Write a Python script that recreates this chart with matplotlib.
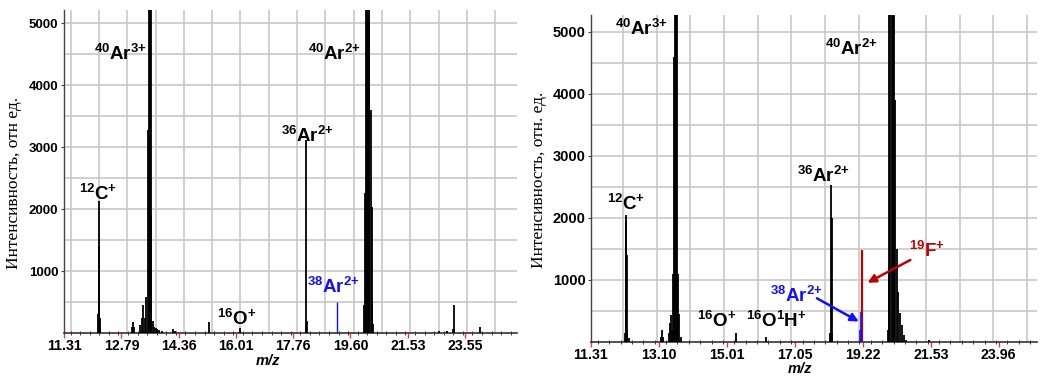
import numpy as np
import matplotlib
matplotlib.use("Agg")
import matplotlib.pyplot as plt

plt.rcParams['font.family'] = ['Liberation Sans', 'DejaVu Sans']
plt.rcParams['mathtext.default'] = 'regular'

# ---- data (m/z, intensity) ----
left_mz = [12.17, 12.19, 12.20, 12.22, 12.24,
           13.08, 13.11, 13.14, 13.30, 13.35, 13.38, 13.42,
           13.46, 13.50, 13.52, 13.55, 13.58, 13.60, 13.63, 13.67, 13.72, 13.76, 13.82, 13.90,
           14.21, 14.25, 15.21, 16.14,
           18.16, 18.18, 18.20,
           20.04, 20.08, 20.10, 20.14, 20.17, 20.20, 20.23, 20.27, 20.30, 20.33, 20.36,
           22.63, 22.90, 23.10, 23.14, 23.17, 24.11]
left_int = [300, 1400, 2130, 250, 80,
            100, 180, 90, 130, 250, 457, 250,
            585, 3270, 5300, 5300, 5300, 1900, 200, 90, 80, 60, 50, 30,
            60, 40, 170, 80,
            150, 3110, 200,
            450, 2260, 5300, 5300, 5300, 5300, 5300, 3600, 2040, 480, 150,
            30, 40, 60, 450, 60, 90]
left_blue_mz = [19.16]
left_blue_int = [505]

right_mz = [12.18, 12.20, 12.21, 12.23, 12.25, 12.28,
            13.14, 13.17, 13.20, 13.36, 13.40, 13.42, 13.45,
            13.49, 13.51, 13.53, 13.57, 13.59, 13.61, 13.64, 13.70,
            15.26, 16.18,
            18.16, 18.19, 18.21, 18.23,
            20.06, 20.09, 20.11, 20.14, 20.18, 20.22, 20.27, 20.31, 20.36, 20.41, 20.46, 20.53,
            20.59, 20.66, 21.46]
right_int = [150, 1950, 2050, 1400, 200, 60,
             80, 195, 80, 150, 300, 435, 200,
             1100, 4600, 5400, 5400, 5400, 1100, 450, 80,
             140, 80,
             150, 2530, 2000, 150,
             200, 1215, 5400, 5400, 5400, 5400, 5400, 3900, 1500, 800, 470, 270,
             110, 40, 40]
right_blue_mz = [19.13, 19.15]
right_blue_int = [200, 490]
right_red_mz = [19.20]
right_red_int = [1485]

left_ticks = [11.31, 12.79, 14.36, 16.01, 17.76, 19.60, 21.53, 23.55]
right_ticks = [11.31, 13.10, 15.01, 17.05, 19.22, 21.53, 23.96]
y_ticks = [1000, 2000, 3000, 4000, 5000]

BLUE = '#1010ff'
RED = '#c00000'


def fwd(x):
    return np.sqrt(np.clip(x, 0, None))


def inv(x):
    return np.square(x)


def setup(ax, ticks, xlim, ylim, grid_start, grid_step, n_grid, ylabel, lab_xy, ytick_fs):
    ax.set_xscale('function', functions=(fwd, inv))
    ax.set_xlim(*xlim)
    ax.set_ylim(*ylim)
    for s in ['top', 'right']:
        ax.spines[s].set_visible(False)
    ax.spines['left'].set_color('#444444')
    ax.spines['bottom'].set_color('#333333')
    ax.spines['left'].set_linewidth(1.0)
    ax.spines['bottom'].set_linewidth(1.2)
    # vertical grid at uniform time (sqrt m/z) spacing
    for k in range(n_grid):
        ax.axvline((grid_start + k * grid_step) ** 2, color='#c8c8c8', lw=1.2, zorder=0)
    ax.set_yticks(y_ticks)
    ax.set_yticks(np.arange(500, ylim[1], 1000), minor=True)
    ax.grid(axis='y', which='both', color='#c8c8c8', lw=1.2, zorder=0)
    ax.set_axisbelow(True)
    ax.set_yticklabels([str(v) for v in y_ticks], fontweight='bold', fontsize=ytick_fs)
    ax.tick_params(axis='y', which='major', length=2, width=0.8, color='#444444', pad=2)
    ax.tick_params(axis='y', which='minor', length=0)
    ax.set_xticks(ticks)
    ax.set_xticklabels(['%.2f' % t for t in ticks], fontweight='bold', fontsize=10.2)
    ax.tick_params(axis='x', which='major', direction='out', length=3.6, width=1,
                   color='#ff3030', pad=0.5)
    s0, s1 = np.sqrt(xlim[0]), np.sqrt(xlim[1])
    minor = np.arange(s0, s1, (np.sqrt(ticks[1]) - np.sqrt(ticks[0])) / 6) ** 2
    ax.set_xticks(minor, minor=True)
    ax.tick_params(axis='x', which='minor', direction='inout', length=3, width=0.7,
                   color='#333333')
    ax.set_xlabel('m/z', fontweight='bold', style='italic', fontsize=10.5, labelpad=0)
    fig.text(lab_xy[0], lab_xy[1], ylabel, rotation=90, ha='center', va='center',
             family='Liberation Serif', fontsize=12.5)


def label(ax, x, y, text, color='black', fs=13.5):
    ax.text(x, y, text, color=color, fontsize=fs, fontweight='bold',
            ha='left', va='baseline', zorder=5)


fig = plt.figure(figsize=(10.43, 3.76), dpi=100)

# ---- left panel ----
ax1 = fig.add_axes([64 / 1043, 1 - 333 / 376, 453 / 1043, 323 / 376])
setup(ax1, left_ticks, (11.475, 25.46), (0, 5210), 3.3875, 0.10515, 16,
      'Интенсивность, отн ед.', (14 / 1043, 1 - 183 / 376), 9.5)
ax1.vlines(left_mz, 0, left_int, color='black', lw=1.3, zorder=3)
ax1.vlines(left_blue_mz, 0, left_blue_int, color=BLUE, lw=1.0, zorder=3)
ax1.xaxis.set_label_coords((268 - 64) / 453, -0.066)

label(ax1, 12.078, 4400, r'$^{40}$Ar$^{3{+}}$')
label(ax1, 11.70, 2145, r'$^{12}$C$^{{+}}$')
label(ax1, 15.47, 130, r'$^{16}$O$^{{+}}$')
label(ax1, 17.39, 3085, r'$^{36}$Ar$^{2{+}}$')
label(ax1, 18.23, 4400, r'$^{40}$Ar$^{2{+}}$')
label(ax1, 18.20, 640, r'$^{38}$Ar$^{2{+}}$', color=BLUE)

# ---- right panel ----
ax2 = fig.add_axes([591 / 1043, 1 - 342 / 376, 446 / 1043, 327 / 376])
setup(ax2, right_ticks, (11.485, 25.39), (0, 5274), 3.4840, 0.12644, 13,
      'Интенсивность, отн. ед.', (539 / 1043, 1 - 180 / 376), 10.5)
ax2.vlines(right_mz, 0, right_int, color='black', lw=1.3, zorder=3)
ax2.vlines(right_blue_mz, 0, right_blue_int, color=BLUE, lw=1.2, zorder=4)
ax2.vlines(right_red_mz, 0, right_red_int, color=RED, lw=1.6, zorder=3)
ax2.xaxis.set_label_coords((800 - 591) / 446, -0.060)

label(ax2, 11.915, 4950, r'$^{40}$Ar$^{3{+}}$')
label(ax2, 11.71, 2129, r'$^{12}$C$^{{+}}$')
label(ax2, 14.157, 242, r'$^{16}$O$^{{+}}$')
label(ax2, 15.58, 242, r'$^{16}$O$^{1}$H$^{{+}}$')
label(ax2, 17.11, 2586, r'$^{36}$Ar$^{2{+}}$')
label(ax2, 18.01, 4629, r'$^{40}$Ar$^{2{+}}$')
label(ax2, 16.29, 650, r'$^{38}$Ar$^{2{+}}$', color=BLUE)
label(ax2, 20.76, 1376, r'$^{19}$F$^{{+}}$', color=RED)

ax2.annotate('', xy=(19.09, 330), xytext=(17.74, 705),
             arrowprops=dict(arrowstyle='-|>', color=BLUE, lw=1.8, mutation_scale=12,
                             shrinkA=0, shrinkB=0), zorder=6)
ax2.annotate('', xy=(19.38, 956), xytext=(20.82, 1323),
             arrowprops=dict(arrowstyle='-|>', color=RED, lw=1.8, mutation_scale=12,
                             shrinkA=0, shrinkB=0), zorder=6)

fig.savefig('out.png', dpi=100)
